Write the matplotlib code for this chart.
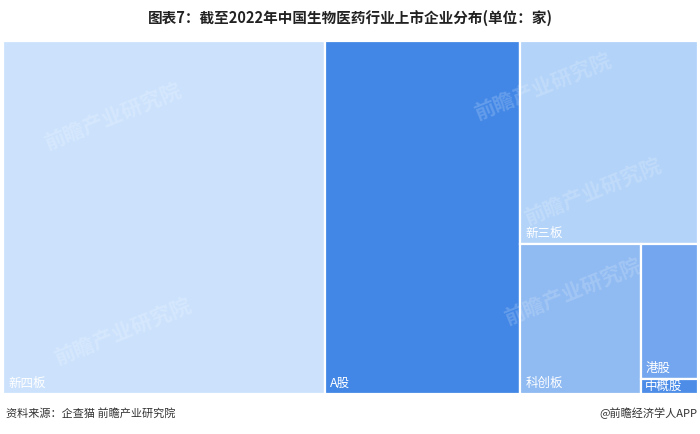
import matplotlib
matplotlib.use("Agg")
import matplotlib.pyplot as plt
from matplotlib.patches import Rectangle

plt.rcParams['font.family'] = ['Noto Sans CJK SC', 'DejaVu Sans']

labels = ["新四板", "A股", "新三板", "科创板", "港股", "中概股"]
values = [1300, 786, 412, 207, 88, 10]
colors = ["#cce2fc", "#4287e6", "#b3d3f9", "#8fbaf2", "#73a6ee", "#4d8de8"]


def worst(row, w):
    s = sum(row)
    return max(max(w * w * r / (s * s), (s * s) / (w * w * r)) for r in row)


def squarify(areas, x, y, dx, dy):
    # areas already scaled to dx*dy, y measured from the top
    rects = []
    areas = list(areas)
    while areas:
        short = min(dx, dy)
        row = [areas.pop(0)]
        while areas and worst(row + [areas[0]], short) <= worst(row, short):
            row.append(areas.pop(0))
        s = sum(row)
        if dx >= dy:
            w = s / dy
            yy = y
            for a in row:
                h = a / w
                rects.append((x, yy, w, h))
                yy += h
            x += w
            dx -= w
        else:
            h = s / dx
            xx = x
            for a in row:
                w = a / h
                rects.append((xx, y, w, h))
                xx += w
            y += h
            dy -= h
    return rects


W, H = 695.0, 353.0
tot = sum(values)
areas = [v / tot * W * H for v in values]
rects = squarify(areas, 0, 0, W, H)

fig = plt.figure(figsize=(7, 4.34), dpi=100)
ax = fig.add_axes([3 / 700, 40 / 434, W / 700, H / 434])
ax.set_xlim(0, W)
ax.set_ylim(H, 0)
ax.axis("off")

for (x, y, w, h), lab, c in zip(rects, labels, colors):
    ax.add_patch(Rectangle((x, y), w, h, facecolor=c, edgecolor="white", lw=1.6))
    if h > 30:
        ax.text(x + 5, y + h - 4, lab, color="white", fontsize=9, ha="left", va="bottom")
    else:
        ax.text(x + 4, y + h / 2 + 0.5, lab, color="white", fontsize=9, ha="left", va="center")

# faint watermarks
for wx, wy in [(110, 75), (540, 45), (590, 150), (570, 250), (120, 290)]:
    ax.text(wx, wy, "前瞻产业研究院", color="white", alpha=0.18, fontsize=15,
            fontweight="bold", rotation=22, ha="center", va="center")

fig.text(0.5, 1 - 18 / 434, "图表7：截至2022年中国生物医药行业上市企业分布(单位：家)",
         ha="center", va="center", fontsize=10.5, fontweight="bold", color="#222222")
fig.text(6 / 700, 1 - 413 / 434, "资料来源：企查猫 前瞻产业研究院", ha="left", va="center",
         fontsize=8, color="#333333")
fig.text(697 / 700, 1 - 413 / 434, "@前瞻经济学人APP", ha="right", va="center",
         fontsize=8, color="#333333")

fig.savefig("out.png", dpi=100, facecolor="white")
